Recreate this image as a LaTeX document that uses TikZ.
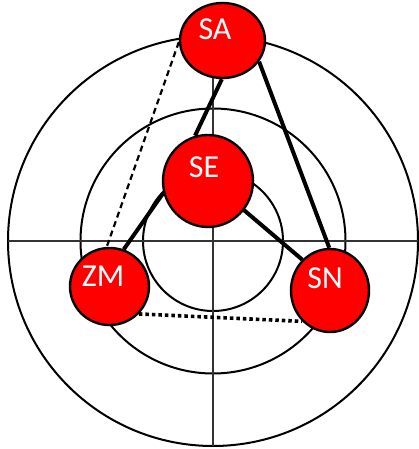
\documentclass[tikz,border=0pt]{standalone}
\usepackage{fontspec}
\setmainfont{Carlito}
\usetikzlibrary{shapes.geometric}
\tikzset{
  ring/.style={draw=black, line width=2pt},
  axis/.style={draw=black!80, line width=1.3pt},
  blob/.style={ellipse, draw=black, line width=2.4pt, fill=red, inner sep=0pt},
  lbl/.style={anchor=base, text=white, font=\fontsize{32}{36}\selectfont},
  link/.style={draw=black, line width=4pt},
  dlink/.style={draw=black, line width=2.2pt, dash pattern=on 6pt off 4pt},
  olink/.style={draw=black, line width=3.6pt, dash pattern=on 3.5pt off 3pt}
}
\begin{document}
\begin{tikzpicture}[x=1pt,y=-1pt]
\useasboundingbox (0,0) rectangle (419,449);
% rings and axes
\coordinate (O) at (213,241);
\draw[ring] (O) circle (205);
\draw[ring] (O) circle (132.5);
\draw[ring] (O) circle (70);
\coordinate (L) at (8,241);
\coordinate (R) at (418,241);
\coordinate (T) at (213,36);
\coordinate (B) at (213,446);
\draw[axis] (L) -- (R);
\draw[axis] (T) -- (B);
% nodes
\node[blob, minimum width=85pt, minimum height=75pt] (SA) at (222.5,40.5) {};
\node[blob, minimum width=90pt, minimum height=92pt] (SE) at (208,181) {};
\node[blob, minimum width=79pt, minimum height=77pt] (ZM) at (109.5,286.5) {};
\node[blob, minimum width=78pt, minimum height=83pt] (SN) at (330,290.5) {};
% connectors
\draw[link] (SA.269) -- (SE.106);
\draw[link] (SA.-30) -- (SN.91);
\draw[link] (SE.195) -- (ZM.69);
\draw[link] (SE.-39) -- (SN.132);
\draw[dlink] (SA.182) -- (ZM.94);
\draw[olink] (ZM.-43) -- (SN.228);
% labels
\node[lbl] (SAt) at (215,39.3) {SA};
\node[lbl] (SEt) at (204,177.3) {SE};
\node[lbl] (ZMt) at (103,286.7) {ZM};
\node[lbl] (SNt) at (325,288.3) {SN};
\end{tikzpicture}
\end{document}
